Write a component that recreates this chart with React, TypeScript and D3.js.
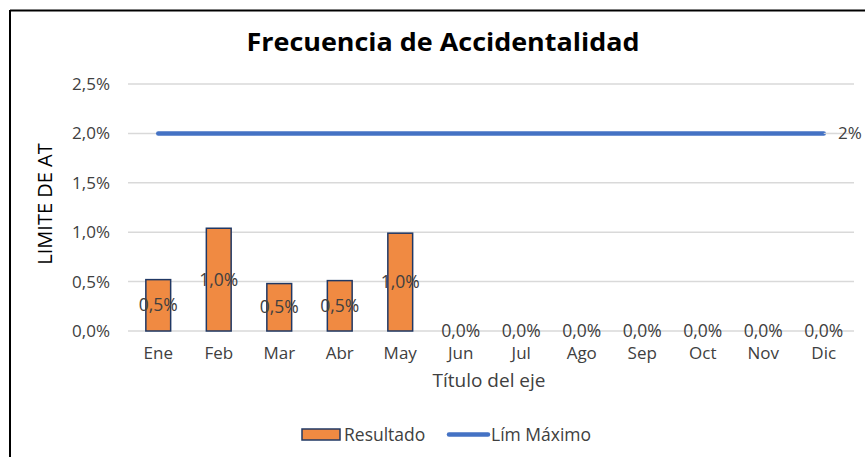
import * as d3 from 'd3';

// Chart data
const months = ['Ene', 'Feb', 'Mar', 'Abr', 'May', 'Jun', 'Jul', 'Ago', 'Sep', 'Oct', 'Nov', 'Dic'];
const resultado = [0.0052, 0.0104, 0.0048, 0.0051, 0.0099, 0, 0, 0, 0, 0, 0, 0];
const limMaximo = [0.02, 0.02, 0.02, 0.02, 0.02, 0.02, 0.02, 0.02, 0.02, 0.02, 0.02, 0.02];
const yTicks = [0, 0.005, 0.01, 0.015, 0.02, 0.025];

const W = 865;
const H = 457;
const FONT = '"Open Sans", Lato, sans-serif';
const TEXT = '#404040';
const BAR_FILL = '#F08A42';
const BAR_STROKE = '#203864';
const LINE_COLOR = '#4472C4';
const GRID = '#D9D9D9';

const fmt = (v: number) => (v * 100).toFixed(1).replace('.', ',') + '%';

export default function App() {
  const margin = { left: 128, right: 11, top: 84, bottom: 126 };
  const x = d3.scaleBand<string>()
    .domain(months)
    .range([margin.left, W - margin.right])
    .paddingInner(0.59)
    .paddingOuter(0.295);
  const y = d3.scaleLinear().domain([0, 0.025]).range([H - margin.bottom, margin.top]);
  const cx = (m: string) => (x(m) ?? 0) + x.bandwidth() / 2;

  const line = d3.line<number>()
    .x((_, i) => cx(months[i]))
    .y(d => y(d));

  return (
    <div style={{ position: 'absolute', left: 0, top: 0 }}>
      <svg width={W} height={H} style={{ display: 'block', background: '#fff' }} fontFamily={FONT}>
        {/* frame */}
        <line x1={10} x2={W} y1={10.5} y2={10.5} stroke="#000" strokeWidth={2} />
        <line x1={10} x2={10} y1={10} y2={H} stroke="#000" strokeWidth={2} />

        <text x={443} y={51} textAnchor="middle" fontSize={25} fontWeight={700} fill="#000"
          textLength={393} lengthAdjust="spacingAndGlyphs">
          Frecuencia de Accidentalidad
        </text>

        {/* gridlines + y ticks */}
        {yTicks.map(t => (
          <g key={t}>
            <line x1={margin.left} x2={W - margin.right} y1={y(t)} y2={y(t)} stroke={GRID} strokeWidth={1.5} />
            <text x={110} y={y(t) + 6} textAnchor="end" fontSize={17} fill={TEXT}>{fmt(t)}</text>
          </g>
        ))}

        <text transform={`translate(52, 204) rotate(-90)`} textAnchor="middle" fontSize={20} fill="#000">
          LIMITE DE AT
        </text>

        {/* bars */}
        {resultado.map((v, i) => (
          <rect key={months[i]} x={x(months[i])} y={y(v)} width={x.bandwidth()} height={y(0) - y(v)}
            fill={BAR_FILL} stroke={BAR_STROKE} strokeWidth={1.5} />
        ))}

        {/* limit line */}
        <path d={line(limMaximo) ?? ''} fill="none" stroke={LINE_COLOR} strokeWidth={4.5} strokeLinecap="round" />
        <line x1={cx('Dic')} x2={837} y1={y(0.02)} y2={y(0.02)} stroke={GRID} strokeWidth={1} />
        <text x={838} y={y(0.02) + 6} fontSize={17} fill={TEXT}>2%</text>

        {/* data labels */}
        {resultado.map((v, i) => (
          <text key={'l' + months[i]} x={cx(months[i])} y={(y(v) + y(0)) / 2 + 6} textAnchor="middle" fontSize={17.5} fill={TEXT}>
            {fmt(Math.round(v * 200) / 200)}
          </text>
        ))}

        {/* x labels */}
        {months.map(m => (
          <text key={'x' + m} x={cx(m)} y={359} textAnchor="middle" fontSize={17} fill={TEXT}>{m}</text>
        ))}
        <text x={489} y={387} textAnchor="middle" fontSize={19} fill={TEXT}>Título del eje</text>

        {/* legend */}
        <rect x={302} y={429} width={38} height={11} fill={BAR_FILL} stroke={BAR_STROKE} strokeWidth={1.5} />
        <text x={344} y={441} fontSize={17.5} fill={TEXT}>Resultado</text>
        <line x1={449} x2={488} y1={434.5} y2={434.5} stroke={LINE_COLOR} strokeWidth={4.5} strokeLinecap="round" />
        <text x={491} y={441} fontSize={17.5} fill={TEXT}>Lím Máximo</text>
      </svg>
    </div>
  );
}
